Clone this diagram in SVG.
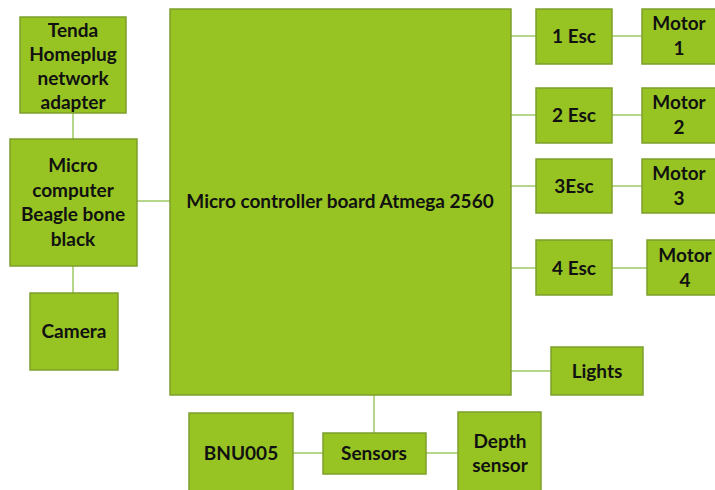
<svg xmlns="http://www.w3.org/2000/svg" width="715" height="490" viewBox="0 0 715 490">
<style>
.n{fill:#97C423;stroke:#7E9E2C;stroke-width:1.5}
.t{font-family:Lato,"Open Sans",sans-serif;font-weight:bold;font-size:19px;fill:#111;text-anchor:middle}
.c{stroke:#B6D68A;stroke-width:2;fill:none}
</style>
<rect width="715" height="490" fill="#fff"/>
<g id="connectors">
<line class="c" x1="73" y1="113" x2="73" y2="139"/>
<line class="c" x1="73" y1="266" x2="73" y2="293"/>
<line class="c" x1="137" y1="201" x2="170" y2="201"/>
<line class="c" x1="511" y1="36" x2="536" y2="36"/>
<line class="c" x1="612" y1="36" x2="642" y2="36"/>
<line class="c" x1="511" y1="115" x2="536" y2="115"/>
<line class="c" x1="612" y1="115" x2="642" y2="115"/>
<line class="c" x1="511" y1="186" x2="536" y2="186"/>
<line class="c" x1="612" y1="186" x2="642" y2="186"/>
<line class="c" x1="511" y1="268" x2="536" y2="268"/>
<line class="c" x1="612" y1="268" x2="647" y2="268"/>
<line class="c" x1="511" y1="371" x2="551" y2="371"/>
<line class="c" x1="374" y1="395" x2="374" y2="433"/>
<line class="c" x1="293" y1="453" x2="323" y2="453"/>
<line class="c" x1="426" y1="453" x2="458" y2="453"/>
</g>
<g id="tenda"><rect class="n" x="20" y="17" width="106" height="96"/>
<text class="t" x="73" y="37">Tenda</text><text class="t" x="73" y="61">Homeplug</text><text class="t" x="73" y="85">network</text><text class="t" x="73" y="109">adapter</text></g>
<g id="microcomputer"><rect class="n" x="10" y="139" width="127" height="127"/>
<text class="t" x="73" y="172">Micro</text><text class="t" x="73" y="197">computer</text><text class="t" x="73" y="221">Beagle bone</text><text class="t" x="73" y="246">black</text></g>
<g id="camera"><rect class="n" x="30" y="293" width="88" height="77"/>
<text class="t" x="74" y="338">Camera</text></g>
<g id="main"><rect class="n" x="170" y="9" width="341" height="386"/>
<text class="t" x="340" y="208">Micro controller board Atmega 2560</text></g>
<g id="esc1"><rect class="n" x="536" y="9" width="76" height="55"/><text class="t" x="574" y="43">1 Esc</text></g>
<g id="esc2"><rect class="n" x="536" y="88" width="76" height="55"/><text class="t" x="574" y="122">2 Esc</text></g>
<g id="esc3"><rect class="n" x="536" y="159" width="76" height="54"/><text class="t" x="574" y="193">3Esc</text></g>
<g id="esc4"><rect class="n" x="536" y="240" width="76" height="55"/><text class="t" x="574" y="275">4 Esc</text></g>
<g id="motor1"><rect class="n" x="642" y="9" width="76" height="55"/><text class="t" x="679" y="30">Motor</text><text class="t" x="679" y="55">1</text></g>
<g id="motor2"><rect class="n" x="642" y="88" width="76" height="55"/><text class="t" x="679" y="109">Motor</text><text class="t" x="679" y="134">2</text></g>
<g id="motor3"><rect class="n" x="642" y="159" width="76" height="54"/><text class="t" x="679" y="180">Motor</text><text class="t" x="679" y="205">3</text></g>
<g id="motor4"><rect class="n" x="647" y="240" width="72" height="55"/><text class="t" x="685" y="262">Motor</text><text class="t" x="685" y="287">4</text></g>
<g id="lights"><rect class="n" x="551" y="347" width="92" height="48"/><text class="t" x="597" y="378">Lights</text></g>
<g id="sensors"><rect class="n" x="323" y="433" width="103" height="41"/><text class="t" x="374" y="460">Sensors</text></g>
<g id="bnu005"><rect class="n" x="189" y="413" width="104" height="82"/><text class="t" x="241" y="460">BNU005</text></g>
<g id="depth"><rect class="n" x="458" y="412" width="83" height="83"/><text class="t" x="500" y="448">Depth</text><text class="t" x="500" y="472">sensor</text></g>
</svg>
